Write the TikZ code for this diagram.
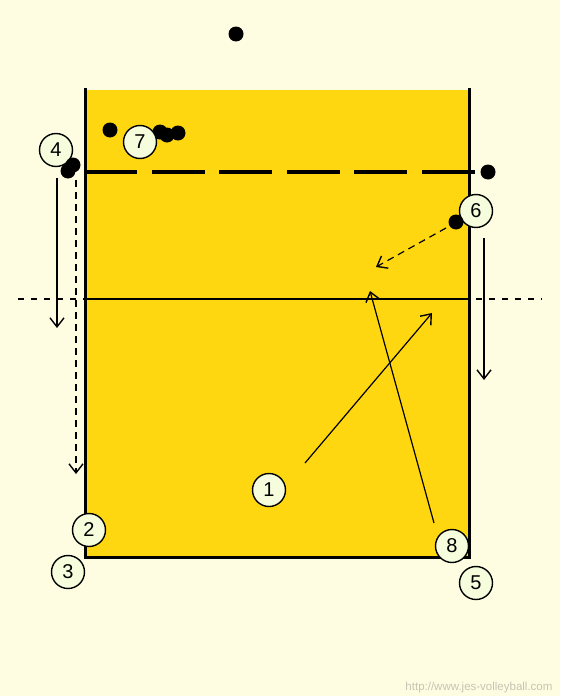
\documentclass[tikz,border=0pt]{standalone}
\usepackage{fontspec}
\setmainfont{Liberation Sans}
\usetikzlibrary{arrows.meta}
\definecolor{bgc}{HTML}{FFFDE1}
\definecolor{court}{HTML}{FFD710}
\definecolor{pfill}{HTML}{F5FDDC}
\definecolor{urlc}{HTML}{C4C4B4}
\tikzset{
  player/.style={circle,draw=black,line width=1.4pt,fill=pfill,minimum size=33pt,inner sep=0pt,font=\fontsize{20}{20}\selectfont},
  ball/.style={circle,fill=black,minimum size=15pt,inner sep=0pt},
  mv/.style={-{Straight Barb[length=9pt,width=14pt,line width=1.4pt]},line width=1.2pt},
  mvd/.style={mv,dash pattern=on 7pt off 5pt},
}
\begin{document}
\begin{tikzpicture}[x=1pt,y=-1pt]
\fill[bgc] (0,0) rectangle (560,696);
\useasboundingbox (0,0) rectangle (560,696);
% court
\fill[court] (85,90) rectangle (469,557);
\draw[line width=3pt] (85,88) -- (85,557) -- (469,557) -- (469,88);
% attack line (dashed)
\draw[line width=4pt,dash pattern=on 53pt off 14.6pt] (84,172) -- (475,172);
% centre line
\draw[line width=2pt] (85,299) -- (469,299);
\draw[line width=2pt,dash pattern=on 6pt off 7pt] (18,299) -- (85,299);
\draw[line width=2pt,dash pattern=on 6pt off 7pt] (476,299) -- (542,299);
% arrows
\coordinate (a1s) at (305,463); \coordinate (a1e) at (432,313);
\coordinate (a8s) at (434,523); \coordinate (a8e) at (370,291);
\coordinate (a6s) at (446,228); \coordinate (a6e) at (376,267);
\coordinate (l1s) at (57,178); \coordinate (l1e) at (57,328);
\coordinate (l2s) at (76,180); \coordinate (l2e) at (76,474);
\coordinate (r1s) at (484,238); \coordinate (r1e) at (484,380);
\draw[mv] (a1s) -- (a1e);
\draw[mv] (a8s) -- (a8e);
\draw[mvd] (a6s) -- (a6e);
\draw[mv] (l1s) -- (l1e);
\draw[mvd] (l2s) -- (l2e);
\draw[mv] (r1s) -- (r1e);
% balls
\node[ball] (b0) at (236,34) {};
\node[ball] (b1) at (110,130) {};
\node[ball] (b2) at (160,132) {};
\node[ball] (b3) at (167,135) {};
\node[ball] (b4) at (178,133) {};
\node[ball] (b7) at (488,172) {};
% players
\node[player] (p4) at (56,150) {4};
\node[ball] (b5) at (68,171) {};
\node[ball] (b6) at (73,165) {};
\node[player] (p7) at (140,142) {7};
\node[player] (p6) at (476,211) {6};
\node[ball] (b8) at (456,222) {};
\node[player] (p1) at (269,490) {1};
\node[player] (p2) at (89,530) {2};
\node[player] (p3) at (68,572) {3};
\node[player] (p8) at (452,546) {8};
\node[player] (p5) at (476,583) {5};
% url
\node[text=urlc,font=\fontsize{11.5}{11.5}\selectfont,anchor=east] (url) at (556,688) {http://www.jes-volleyball.com};
\end{tikzpicture}
\end{document}
